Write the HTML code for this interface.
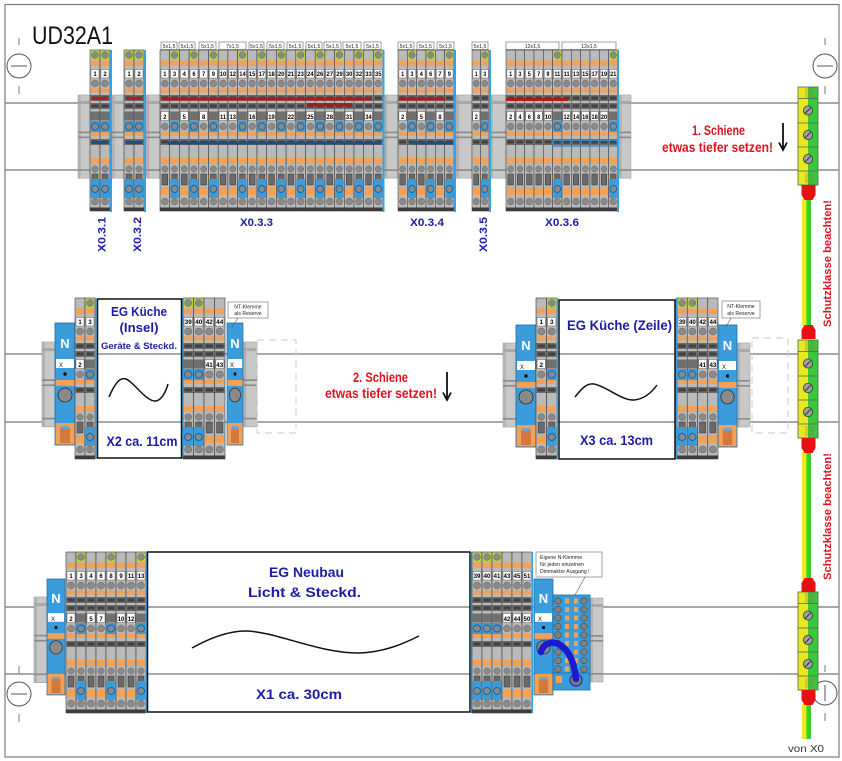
<!DOCTYPE html>
<html><head><meta charset="utf-8"><style>
html,body{margin:0;padding:0;background:#fff;}
svg{display:block;}
text{font-family:"Liberation Sans",sans-serif;}
.n{font-size:6px;font-weight:bold;fill:#000;text-anchor:middle;}
.lb{font-size:5.2px;fill:#222;text-anchor:middle;}
.bl{font-size:11px;font-weight:bold;fill:#1c1ca6;}
.rd{font-weight:bold;fill:#e2121e;}
.bx{font-weight:bold;fill:#1c1ca6;text-anchor:middle;}
.nn{font-size:13px;font-weight:bold;fill:#fff;text-anchor:middle;}
.xx{font-size:6px;fill:#111;}
.co{font-size:5.2px;fill:#222;}
</style></head><body>
<svg width="842" height="761" viewBox="0 0 842 761" xmlns="http://www.w3.org/2000/svg">
<defs>
<g id="t">
<rect x="0" y="0" width="10" height="161" fill="#bababa" stroke="#3c3c3c" stroke-width="0.6"/>
<rect x="1" y="10.5" width="8" height="5.5" fill="#f4a055"/>
<rect x="1" y="19.5" width="8" height="8.5" fill="#fff" stroke="#444" stroke-width="0.4"/>
<circle cx="5" cy="33.5" r="3.5" fill="#8a8a8a" stroke="#666" stroke-width="0.5"/>
<rect x="1" y="38.5" width="8" height="4" fill="#f4a055"/>
<rect x="0.5" y="45" width="9" height="6" fill="#6c6c6c"/>
<rect x="1.5" y="46.5" width="7" height="3" fill="#404040"/>
<rect x="0.5" y="53" width="9" height="6" fill="#6c6c6c"/>
<rect x="1.5" y="54.5" width="7" height="3" fill="#404040"/>
<rect x="0.5" y="61.5" width="9" height="9" fill="#707070"/>
<circle cx="5" cy="76.5" r="3.5" fill="#8a8a8a" stroke="#666" stroke-width="0.5"/>
<rect x="1" y="81.5" width="8" height="4.5" fill="#f4a055"/>
<rect x="0.5" y="89" width="9" height="6" fill="#6c6c6c"/>
<rect x="1.5" y="90.5" width="7" height="3" fill="#404040"/>
<rect x="1" y="108" width="8" height="6" fill="#f4a055"/>
<circle cx="5" cy="119" r="3.2" fill="#8a8a8a" stroke="#666" stroke-width="0.5"/>
<rect x="2" y="124" width="6" height="11" fill="#6a6a6a" stroke="#333" stroke-width="0.5"/>
<rect x="1" y="137" width="8" height="8" fill="#f4a055"/>
<circle cx="5" cy="151.5" r="3.5" fill="#8a8a8a" stroke="#666" stroke-width="0.5"/>
<rect x="0" y="157.5" width="10" height="3.5" fill="#3c3c3c"/>
</g>
<rect id="w" x="1" y="61.5" width="8" height="9" fill="#fff" stroke="#444" stroke-width="0.4"/>
<g id="g"><rect x="0.6" y="0.6" width="8.8" height="9" fill="#b8d83a"/><circle cx="5" cy="5" r="3.4" fill="#8a8a8a" stroke="#555" stroke-width="0.4"/></g>
<g id="b"><rect x="0.6" y="71" width="8.8" height="11" fill="#3a9cda"/><circle cx="5" cy="76.5" r="3.5" fill="#8a8a8a" stroke="#1a5f9a" stroke-width="0.9"/><rect x="0.6" y="129" width="8.8" height="19" fill="#3a9cda"/><circle cx="5" cy="139" r="3.5" fill="#8a8a8a" stroke="#1a5f9a" stroke-width="0.9"/></g>
<g id="n">
<rect width="20" height="122" fill="#3a9cda" stroke="#1e6aa6" stroke-width="0.8"/>
<rect x="1" y="36" width="18" height="9" fill="#fff"/>
<circle cx="10" cy="51" r="1.7" fill="#111"/>
<rect x="0.5" y="57" width="19" height="6" fill="#f4a055"/>
<circle cx="10" cy="72" r="7" fill="#8a8a8a" stroke="#2a2a2a" stroke-width="0.8"/>
<rect x="0.5" y="100" width="19" height="21.5" fill="#f4a055"/>
<rect x="5" y="105" width="10" height="15" fill="#d27a3c"/>
<rect x="6" y="103" width="8" height="3" fill="#6fa3c8"/>
</g>
<g id="e"><rect width="13" height="84" fill="#c8c8c8" stroke="#a0a0a0" stroke-width="0.6"/><rect width="3" height="84" fill="#b2b2b2"/><rect y="6" width="13" height="3" fill="#a8a8a8"/><rect y="37" width="13" height="1.6" fill="#8a8a8a"/><rect y="42" width="13" height="1.6" fill="#8a8a8a"/><rect y="75" width="13" height="1.6" fill="#8a8a8a"/></g>
<g id="pe">
<rect width="10" height="98" fill="#e8e820"/>
<rect x="10" width="10" height="98" fill="#3cc83c"/>
<rect width="20" height="98" fill="none" stroke="#5a5a5a" stroke-width="0.8"/>
<path d="M7 2h9M7 4h9M7 6h9M7 8h9M7 10h9M7 87h9M7 89h9M7 91h9M7 93h9M7 95h9" stroke="#7a7a3a" stroke-width="0.5"/>
<path d="M0 11.5h20M0 36h20M0 60h20M0 84h20" stroke="#5a5a5a" stroke-width="0.7"/>
<circle cx="10" cy="23.5" r="4.6" fill="#a0a0a0" stroke="#333" stroke-width="0.8"/>
<circle cx="10" cy="48" r="4.6" fill="#a0a0a0" stroke="#333" stroke-width="0.8"/>
<circle cx="10" cy="72" r="4.6" fill="#a0a0a0" stroke="#333" stroke-width="0.8"/>
<path d="M7,26.5 L13,20.5 M7,51 L13,45 M7,75 L13,69" stroke="#333" stroke-width="0.9"/>
</g>
<g id="mh"><circle r="12" fill="#fff" stroke="#555" stroke-width="1"/><line x1="-8" x2="8" y1="0" y2="0" stroke="#555" stroke-width="1"/><line x1="0" x2="0" y1="-28" y2="-21" stroke="#777"/><line x1="0" x2="0" y1="20" y2="28" stroke="#777"/></g>
</defs>

<rect x="0" y="0" width="842" height="761" fill="#fff"/>
<rect x="5" y="4.5" width="834" height="752.5" fill="none" stroke="#7a7a7a" stroke-width="1.2"/>

<!-- rails -->
<path d="M5 103H839M5 170H839M5 354H839M5 422H839M5 607H839M5 674H839" stroke="#8c8c8c" stroke-width="1.6"/>

<!-- mounting holes -->
<use href="#mh" transform="translate(19,66)"/>
<use href="#mh" transform="translate(825,66)"/>
<use href="#mh" transform="translate(19,694)"/>
<g transform="translate(825,693)"><circle r="12" fill="#fff" stroke="#555"/><line x1="0" x2="0" y1="-8" y2="8" stroke="#555"/><line x1="0" x2="0" y1="-28" y2="-21" stroke="#777"/><line x1="0" x2="0" y1="20" y2="28" stroke="#777"/></g>

<!-- title -->
<text x="32" y="44" font-size="25" fill="#111" textLength="81" lengthAdjust="spacingAndGlyphs">UD32A1</text>

<!-- end brackets top -->
<use href="#e" transform="translate(78,95) scale(0.92,0.99)"/>
<use href="#e" transform="translate(112,95) scale(0.92,0.99)"/>
<use href="#e" transform="translate(146,95) scale(1.08,0.99)"/>
<use href="#e" transform="translate(384,95) scale(1.08,0.99)"/>
<use href="#e" transform="translate(455,95) scale(1.3,0.99)"/>
<use href="#e" transform="translate(489,95) scale(1.3,0.99)"/>
<use href="#e" transform="translate(619,95) scale(0.92,0.99)"/>
<!-- end brackets middle -->
<use href="#e" transform="translate(42,342) scale(1,1.01)"/>
<use href="#e" transform="translate(243,342) scale(1.08,1.01)"/>
<use href="#e" transform="translate(503,343) scale(1,1.0)"/>
<use href="#e" transform="translate(737,343) scale(1,1.0)"/>
<!-- end brackets bottom -->
<use href="#e" transform="translate(34,597) scale(1,1.02)"/>
<use href="#e" transform="translate(590,598) scale(1,1.0)"/>

<!-- dashed placeholders -->
<rect x="257" y="340" width="39" height="93" fill="none" stroke="#c8c8c8" stroke-dasharray="7,5"/>
<rect x="752" y="338" width="36" height="95" fill="none" stroke="#c8c8c8" stroke-dasharray="7,5"/>

<!-- ===== TOP ROW ===== -->
<!-- label boxes -->
<g fill="#fff" stroke="#444" stroke-width="0.5">
<rect x="161" y="42" width="16" height="7.5"/><rect x="179" y="42" width="16" height="7.5"/><rect x="199" y="42" width="17" height="7.5"/><rect x="219" y="42" width="27" height="7.5"/><rect x="249" y="42" width="15" height="7.5"/><rect x="267" y="42" width="17" height="7.5"/><rect x="287" y="42" width="16" height="7.5"/><rect x="306" y="42" width="16" height="7.5"/><rect x="324" y="42" width="17" height="7.5"/><rect x="343" y="42" width="18" height="7.5"/><rect x="364" y="42" width="17" height="7.5"/>
<rect x="398" y="42" width="16" height="7.5"/><rect x="417" y="42" width="17" height="7.5"/><rect x="437" y="42" width="17" height="7.5"/>
<rect x="472" y="42" width="16" height="7.5"/>
<rect x="506" y="42" width="53" height="7.5"/><rect x="562" y="42" width="54" height="7.5"/>
</g>
<g class="lb">
<text x="169" y="48">5x1,5</text><text x="187" y="48">5x1,5</text><text x="207.5" y="48">5x1,5</text><text x="232.5" y="48">7x1,5</text><text x="256.5" y="48">5x1,5</text><text x="275.5" y="48">5x1,5</text><text x="295" y="48">5x1,5</text><text x="314" y="48">5x1,5</text><text x="332.5" y="48">5x1,5</text><text x="352" y="48">5x1,5</text><text x="372.5" y="48">5x1,5</text>
<text x="406" y="48">5x1,5</text><text x="425.5" y="48">5x1,5</text><text x="445.5" y="48">5x1,5</text>
<text x="480" y="48">5x1,5</text>
<text x="532.5" y="48">12x1,5</text><text x="589" y="48">12x1,5</text>
</g>

<!-- X0.3.1 -->
<g transform="translate(90,50)">
<use href="#t"/><use href="#t" x="10"/><use href="#g"/><use href="#g" x="10"/><use href="#b"/><use href="#b" x="10"/>
<text class="n" x="5" y="26">1</text><text class="n" x="15" y="26">2</text>
</g>
<rect x="92" y="97" width="16" height="3" fill="#c01818"/>
<rect x="92" y="141" width="16" height="3" fill="#1d4f80"/>
<rect x="110" y="50" width="2" height="162" fill="#3aa0e0"/>
<!-- X0.3.2 -->
<g transform="translate(124,50)">
<use href="#t"/><use href="#t" x="10"/><use href="#g"/><use href="#g" x="10"/><use href="#b"/><use href="#b" x="10"/>
<text class="n" x="5" y="26">1</text><text class="n" x="15" y="26">2</text>
</g>
<rect x="126" y="97" width="16" height="3" fill="#c01818"/>
<rect x="126" y="141" width="16" height="3" fill="#1d4f80"/>
<rect x="144" y="50" width="2" height="162" fill="#3aa0e0"/>

<!-- X0.3.3 -->
<g transform="translate(160,50) scale(0.97,1)">
<use href="#t" x="0"/><use href="#t" x="10"/><use href="#t" x="20"/><use href="#t" x="30"/><use href="#t" x="40"/><use href="#t" x="50"/><use href="#t" x="60"/><use href="#t" x="70"/><use href="#t" x="80"/><use href="#t" x="90"/><use href="#t" x="100"/><use href="#t" x="110"/><use href="#t" x="120"/><use href="#t" x="130"/><use href="#t" x="140"/><use href="#t" x="150"/><use href="#t" x="160"/><use href="#t" x="170"/><use href="#t" x="180"/><use href="#t" x="190"/><use href="#t" x="200"/><use href="#t" x="210"/><use href="#t" x="220"/>
<use href="#g" x="10"/><use href="#g" x="30"/><use href="#g" x="50"/><use href="#g" x="80"/><use href="#g" x="100"/><use href="#g" x="120"/><use href="#g" x="140"/><use href="#g" x="160"/><use href="#g" x="180"/><use href="#g" x="200"/><use href="#g" x="220"/>
<use href="#b" x="10"/><use href="#b" x="30"/><use href="#b" x="50"/><use href="#b" x="80"/><use href="#b" x="100"/><use href="#b" x="120"/><use href="#b" x="140"/><use href="#b" x="160"/><use href="#b" x="180"/><use href="#b" x="200"/><use href="#b" x="220"/>
<use href="#w" x="0"/><use href="#w" x="20"/><use href="#w" x="40"/><use href="#w" x="60"/><use href="#w" x="70"/><use href="#w" x="90"/><use href="#w" x="110"/><use href="#w" x="130"/><use href="#w" x="150"/><use href="#w" x="170"/><use href="#w" x="190"/><use href="#w" x="210"/>
<g class="n">
<text x="5" y="26">1</text><text x="15" y="26">3</text><text x="25" y="26">4</text><text x="35" y="26">6</text><text x="45" y="26">7</text><text x="55" y="26">9</text><text x="65" y="26">10</text><text x="75" y="26">12</text><text x="85" y="26">14</text><text x="95" y="26">15</text><text x="105" y="26">17</text><text x="115" y="26">18</text><text x="125" y="26">20</text><text x="135" y="26">21</text><text x="145" y="26">23</text><text x="155" y="26">24</text><text x="165" y="26">26</text><text x="175" y="26">27</text><text x="185" y="26">29</text><text x="195" y="26">30</text><text x="205" y="26">32</text><text x="215" y="26">33</text><text x="225" y="26">35</text>
<text x="5" y="69">2</text><text x="25" y="69">5</text><text x="45" y="69">8</text><text x="65" y="69">11</text><text x="75" y="69">13</text><text x="95" y="69">16</text><text x="115" y="69">19</text><text x="135" y="69">22</text><text x="155" y="69">25</text><text x="175" y="69">28</text><text x="195" y="69">31</text><text x="215" y="69">34</text>
</g>
</g>
<rect x="162" y="97.5" width="210" height="3" fill="#b01c1c"/>
<rect x="307" y="103" width="45" height="3.5" fill="#a02020"/>
<rect x="168" y="141.5" width="213" height="3" fill="#1d4f80"/>
<rect x="382.5" y="50" width="2" height="162" fill="#3aa0e0"/>

<!-- X0.3.4 -->
<g transform="translate(398,50) scale(0.933,1)">
<use href="#t" x="0"/><use href="#t" x="10"/><use href="#t" x="20"/><use href="#t" x="30"/><use href="#t" x="40"/><use href="#t" x="50"/>
<use href="#g" x="10"/><use href="#g" x="30"/><use href="#g" x="50"/>
<use href="#b" x="10"/><use href="#b" x="30"/><use href="#b" x="50"/>
<use href="#w" x="0"/><use href="#w" x="20"/><use href="#w" x="40"/>
<g class="n"><text x="5" y="26">1</text><text x="15" y="26">3</text><text x="25" y="26">4</text><text x="35" y="26">6</text><text x="45" y="26">7</text><text x="55" y="26">9</text>
<text x="5" y="69">2</text><text x="25" y="69">5</text><text x="45" y="69">8</text></g>
</g>
<rect x="399" y="97.5" width="46" height="3" fill="#b01c1c"/>
<rect x="410" y="141.5" width="43" height="3" fill="#1d4f80"/>
<rect x="454" y="50" width="2" height="162" fill="#3aa0e0"/>

<!-- X0.3.5 -->
<g transform="translate(472,50) scale(0.85,1)">
<use href="#t" x="0"/><use href="#t" x="10"/><use href="#g" x="10"/><use href="#b" x="10"/><use href="#w" x="0"/>
<g class="n"><text x="5" y="26">1</text><text x="15" y="26">3</text><text x="5" y="69">2</text></g>
</g>
<rect x="489" y="50" width="2" height="162" fill="#3aa0e0"/>

<!-- X0.3.6 -->
<g transform="translate(506,50) scale(0.933,1)">
<use href="#t" x="0"/><use href="#t" x="10"/><use href="#t" x="20"/><use href="#t" x="30"/><use href="#t" x="40"/><use href="#t" x="50"/><use href="#t" x="60"/><use href="#t" x="70"/><use href="#t" x="80"/><use href="#t" x="90"/><use href="#t" x="100"/><use href="#t" x="110"/>
<use href="#g" x="50"/><use href="#g" x="110"/><use href="#b" x="50"/><use href="#b" x="110"/>
<use href="#w" x="0"/><use href="#w" x="10"/><use href="#w" x="20"/><use href="#w" x="30"/><use href="#w" x="40"/><use href="#w" x="60"/><use href="#w" x="70"/><use href="#w" x="80"/><use href="#w" x="90"/><use href="#w" x="100"/>
<g class="n"><text x="5" y="26">1</text><text x="15" y="26">3</text><text x="25" y="26">5</text><text x="35" y="26">7</text><text x="45" y="26">9</text><text x="55" y="26">11</text><text x="65" y="26">11</text><text x="75" y="26">13</text><text x="85" y="26">15</text><text x="95" y="26">17</text><text x="105" y="26">19</text><text x="115" y="26">21</text>
<text x="5" y="69">2</text><text x="15" y="69">4</text><text x="25" y="69">6</text><text x="35" y="69">8</text><text x="45" y="69">10</text><text x="65" y="69">12</text><text x="75" y="69">14</text><text x="85" y="69">16</text><text x="95" y="69">18</text><text x="105" y="69">20</text></g>
</g>
<rect x="506" y="98" width="62" height="3" fill="#b01c1c"/>
<rect x="553" y="140.5" width="64" height="5.5" fill="none" stroke="#2a88c8" stroke-width="1.2"/>
<rect x="617" y="50" width="2" height="162" fill="#3aa0e0"/>

<!-- top labels -->
<text class="bl" x="240" y="226" textLength="33" lengthAdjust="spacingAndGlyphs">X0.3.3</text>
<text class="bl" x="410" y="226" textLength="34" lengthAdjust="spacingAndGlyphs">X0.3.4</text>
<text class="bl" x="545" y="226" textLength="34" lengthAdjust="spacingAndGlyphs">X0.3.6</text>
<text class="bl" font-size="12" transform="translate(105.5,252) rotate(-90)" textLength="35" lengthAdjust="spacingAndGlyphs">X0.3.1</text>
<text class="bl" font-size="12" transform="translate(141,252) rotate(-90)" textLength="35" lengthAdjust="spacingAndGlyphs">X0.3.2</text>
<text class="bl" font-size="12" transform="translate(487,252) rotate(-90)" textLength="35" lengthAdjust="spacingAndGlyphs">X0.3.5</text>

<!-- ===== MIDDLE ROW ===== -->
<!-- X2 -->
<use href="#n" transform="translate(55,323)"/>
<text class="nn" x="65" y="348">N</text><text class="xx" x="59" y="367">X</text>
<g transform="translate(75,298)">
<use href="#t" x="0"/><use href="#t" x="10"/><use href="#g" x="10"/><use href="#b" x="10"/><use href="#w" x="0"/>
<g class="n"><text x="5" y="26">1</text><text x="15" y="26">3</text><text x="5" y="69">2</text></g>
</g>
<rect x="95" y="298" width="1.6" height="161" fill="#3aa0e0"/>
<g transform="translate(183,298) scale(1.05,1)">
<use href="#t" x="0"/><use href="#t" x="10"/><use href="#t" x="20"/><use href="#t" x="30"/>
<use href="#g" x="0"/><use href="#g" x="10"/><use href="#b" x="0"/><use href="#b" x="10"/>
<use href="#w" x="20"/><use href="#w" x="30"/>
<g class="n"><text x="5" y="26">39</text><text x="15" y="26">40</text><text x="25" y="26">42</text><text x="35" y="26">44</text><text x="25" y="69">41</text><text x="35" y="69">43</text></g>
</g>
<rect x="181.5" y="298" width="1.6" height="161" fill="#3aa0e0"/>
<use href="#n" transform="translate(227,323) scale(0.8,1)"/>
<text class="nn" x="235" y="348">N</text><text class="xx" x="230" y="367">X</text>
<rect x="97.5" y="299" width="84" height="159" fill="none" stroke="#111" stroke-width="1.5"/>
<text class="bx" x="139" y="316" font-size="13" textLength="56" lengthAdjust="spacingAndGlyphs">EG Küche</text>
<text class="bx" x="139" y="332" font-size="13" textLength="39" lengthAdjust="spacingAndGlyphs">(Insel)</text>
<text class="bx" x="139" y="349" font-size="9.5" textLength="76" lengthAdjust="spacingAndGlyphs">Geräte &amp; Steckd.</text>
<path d="M109,397 C115,383 120,377 126,379 C134,382 146,402 156,401 C162,400 166,391 168,384" fill="none" stroke="#111" stroke-width="1.5"/>
<text class="bx" x="142" y="446" font-size="14" textLength="71" lengthAdjust="spacingAndGlyphs">X2 ca. 11cm</text>
<rect x="228" y="302" width="40" height="16" fill="#fff" stroke="#666" stroke-width="0.6"/>
<text class="co" x="248" y="308.5" text-anchor="middle">NT-Klemme</text>
<text class="co" x="248" y="315" text-anchor="middle">als Reserve</text>
<line x1="238" y1="318" x2="232" y2="327" stroke="#555" stroke-width="0.6"/>

<!-- X3 -->
<use href="#n" transform="translate(516,325)"/>
<text class="nn" x="526" y="350">N</text><text class="xx" x="520" y="369">X</text>
<g transform="translate(536,298) scale(1.05,1)">
<use href="#t" x="0"/><use href="#t" x="10"/><use href="#g" x="10"/><use href="#b" x="10"/><use href="#w" x="0"/>
<g class="n"><text x="5" y="26">1</text><text x="15" y="26">3</text><text x="5" y="69">2</text></g>
</g>
<rect x="556.5" y="298" width="1.6" height="161" fill="#3aa0e0"/>
<g transform="translate(677,298) scale(1.025,1)">
<use href="#t" x="0"/><use href="#t" x="10"/><use href="#t" x="20"/><use href="#t" x="30"/>
<use href="#g" x="0"/><use href="#g" x="10"/><use href="#b" x="0"/><use href="#b" x="10"/>
<use href="#w" x="20"/><use href="#w" x="30"/>
<g class="n"><text x="5" y="26">39</text><text x="15" y="26">40</text><text x="25" y="26">42</text><text x="35" y="26">44</text><text x="25" y="69">41</text><text x="35" y="69">43</text></g>
</g>
<rect x="675.5" y="298" width="1.6" height="161" fill="#3aa0e0"/>
<use href="#n" transform="translate(718,325) scale(0.95,1)"/>
<text class="nn" x="727.5" y="350">N</text><text class="xx" x="722" y="369">X</text>
<rect x="559" y="300" width="116" height="159" fill="none" stroke="#111" stroke-width="1.5"/>
<text class="bx" x="619.5" y="330" font-size="14" textLength="105" lengthAdjust="spacingAndGlyphs">EG Küche (Zeile)</text>
<path d="M575,397 C582,388 587,383 594,384 C606,386 622,401 634,400 C645,399 652,392 657,385" fill="none" stroke="#111" stroke-width="1.5"/>
<text class="bx" x="616.5" y="445" font-size="14" textLength="73" lengthAdjust="spacingAndGlyphs">X3 ca. 13cm</text>
<rect x="722" y="301" width="38" height="17" fill="#fff" stroke="#666" stroke-width="0.6"/>
<text class="co" x="741" y="308" text-anchor="middle">NT-Klemme</text>
<text class="co" x="741" y="315" text-anchor="middle">als Reserve</text>
<line x1="731" y1="318" x2="726" y2="327" stroke="#555" stroke-width="0.6"/>

<!-- ===== BOTTOM ROW ===== -->
<use href="#n" transform="translate(47,579) scale(0.9,0.95)"/>
<text class="nn" x="56" y="603">N</text><text class="xx" x="51" y="621">X</text>
<g transform="translate(66,552)">
<use href="#t" x="0"/><use href="#t" x="10"/><use href="#t" x="20"/><use href="#t" x="30"/><use href="#t" x="40"/><use href="#t" x="50"/><use href="#t" x="60"/><use href="#t" x="70"/>
<use href="#g" x="10"/><use href="#g" x="40"/><use href="#g" x="70"/><use href="#b" x="10"/><use href="#b" x="40"/><use href="#b" x="70"/>
<use href="#w" x="0"/><use href="#w" x="20"/><use href="#w" x="30"/><use href="#w" x="50"/><use href="#w" x="60"/>
<g class="n"><text x="5" y="26">1</text><text x="15" y="26">3</text><text x="25" y="26">4</text><text x="35" y="26">6</text><text x="45" y="26">8</text><text x="55" y="26">9</text><text x="65" y="26">11</text><text x="75" y="26">13</text>
<text x="5" y="69">2</text><text x="25" y="69">5</text><text x="35" y="69">7</text><text x="55" y="69">10</text><text x="65" y="69">12</text></g>
</g>
<rect x="145.5" y="552" width="1.6" height="161" fill="#3aa0e0"/>
<rect x="147.5" y="552" width="322.5" height="160" fill="none" stroke="#111" stroke-width="1.5"/>
<text class="bx" x="306.5" y="577" font-size="13.5" textLength="75" lengthAdjust="spacingAndGlyphs">EG Neubau</text>
<text class="bx" x="304.5" y="597" font-size="13.5" textLength="113" lengthAdjust="spacingAndGlyphs">Licht &amp; Steckd.</text>
<path d="M192,648 C210,638 228,631 245,631 C275,631 320,654 360,653 C385,652 405,643 419,636" fill="none" stroke="#111" stroke-width="1.5"/>
<text class="bx" x="299" y="699" font-size="14" textLength="86" lengthAdjust="spacingAndGlyphs">X1 ca. 30cm</text>

<rect x="470.5" y="552" width="1.6" height="161" fill="#3aa0e0"/>
<g transform="translate(472,552)">
<use href="#t" x="0"/><use href="#t" x="10"/><use href="#t" x="20"/><use href="#t" x="30"/><use href="#t" x="40"/><use href="#t" x="50"/>
<use href="#g" x="0"/><use href="#g" x="10"/><use href="#g" x="20"/><use href="#b" x="0"/><use href="#b" x="10"/><use href="#b" x="20"/>
<use href="#w" x="30"/><use href="#w" x="40"/><use href="#w" x="50"/>
<g class="n"><text x="5" y="26">39</text><text x="15" y="26">40</text><text x="25" y="26">41</text><text x="35" y="26">43</text><text x="45" y="26">45</text><text x="55" y="26">51</text>
<text x="35" y="69">42</text><text x="45" y="69">44</text><text x="55" y="69">50</text></g>
</g>
<rect x="531.5" y="552" width="1.6" height="161" fill="#3aa0e0"/>
<use href="#n" transform="translate(534,579) scale(0.95,0.95)"/>
<text class="nn" x="543.5" y="603">N</text><text class="xx" x="538" y="621">X</text>

<!-- N distribution block -->
<rect x="553" y="595" width="37" height="95" fill="#3a9cda" stroke="#1e6aa6" stroke-width="0.8"/>
<g fill="#7f7f7f" stroke="#333" stroke-width="0.5">
<circle cx="558" cy="601" r="3.3"/><circle cx="558" cy="609.5" r="3.3"/><circle cx="558" cy="618" r="3.3"/><circle cx="558" cy="626.5" r="3.3"/><circle cx="558" cy="635" r="3.3"/><circle cx="558" cy="643.5" r="3.3"/><circle cx="558" cy="652" r="3.3"/><circle cx="558" cy="660.5" r="3.3"/><circle cx="558" cy="669" r="3.3"/>
<circle cx="584" cy="601" r="3.3"/><circle cx="584" cy="609.5" r="3.3"/><circle cx="584" cy="618" r="3.3"/><circle cx="584" cy="626.5" r="3.3"/><circle cx="584" cy="635" r="3.3"/><circle cx="584" cy="643.5" r="3.3"/><circle cx="584" cy="652" r="3.3"/><circle cx="584" cy="660.5" r="3.3"/><circle cx="584" cy="669" r="3.3"/>
</g>
<g fill="#f4a055">
<rect x="565" y="598.5" width="4" height="5"/><rect x="565" y="607" width="4" height="5"/><rect x="565" y="615.5" width="4" height="5"/><rect x="565" y="624" width="4" height="5"/><rect x="565" y="632.5" width="4" height="5"/><rect x="565" y="641" width="4" height="5"/><rect x="565" y="649.5" width="4" height="5"/><rect x="565" y="658" width="4" height="5"/><rect x="565" y="666.5" width="4" height="5"/>
<rect x="574" y="598.5" width="4" height="5"/><rect x="574" y="607" width="4" height="5"/><rect x="574" y="615.5" width="4" height="5"/><rect x="574" y="624" width="4" height="5"/><rect x="574" y="632.5" width="4" height="5"/><rect x="574" y="641" width="4" height="5"/><rect x="574" y="649.5" width="4" height="5"/><rect x="574" y="658" width="4" height="5"/><rect x="574" y="666.5" width="4" height="5"/>
<rect x="556" y="676" width="6" height="7"/>
</g>
<line x1="553" y1="673" x2="590" y2="673" stroke="#1e6aa6" stroke-width="0.7"/>
<circle cx="576" cy="680" r="6" fill="#7f7f7f" stroke="#1a1a9a" stroke-width="1"/>
<path d="M541,652 C545,636 572,638 576,679" fill="none" stroke="#1a1ad2" stroke-width="6.5" stroke-linecap="round"/>

<rect x="536" y="552" width="66" height="25" fill="#fff" stroke="#666" stroke-width="0.6"/>
<text class="co" x="540" y="559">Eigene N-Klemme</text>
<text class="co" x="540" y="566">für jeden einzelnen</text>
<text class="co" x="540" y="573">Dimmaktor Ausgang !</text>
<line x1="585" y1="577" x2="575" y2="595" stroke="#555" stroke-width="0.6"/>

<!-- ===== PE wires and terminals ===== -->
<g>
<rect x="802" y="199" width="4.5" height="127" fill="#eaea1e"/><rect x="806.5" y="199" width="4.5" height="127" fill="#30d030"/>
<rect x="802" y="452" width="4.5" height="127" fill="#eaea1e"/><rect x="806.5" y="452" width="4.5" height="127" fill="#30d030"/>
<rect x="802" y="704" width="4.5" height="35" fill="#eaea1e"/><rect x="806.5" y="704" width="4.5" height="35" fill="#30d030"/>
</g>
<use href="#pe" transform="translate(798,87)"/>
<use href="#pe" transform="translate(798,340)"/>
<use href="#pe" transform="translate(798,592)"/>
<g fill="#e81010">
<path d="M801.5,185 H815.5 V195 L812.5,200 H804.5 L801.5,195 Z"/>
<path d="M801.5,339 H815.5 V330 L812.5,325 H804.5 L801.5,330 Z"/>
<path d="M801.5,438 H815.5 V448 L812.5,453 H804.5 L801.5,448 Z"/>
<path d="M801.5,592 H815.5 V583 L812.5,578 H804.5 L801.5,583 Z"/>
<path d="M801.5,690 H815.5 V700 L812.5,705 H804.5 L801.5,700 Z"/>
</g>

<!-- red notes -->
<text class="rd" x="718.5" y="135" font-size="14" text-anchor="middle" textLength="53" lengthAdjust="spacingAndGlyphs">1. Schiene</text>
<text class="rd" x="717.5" y="152" font-size="14" text-anchor="middle" textLength="111" lengthAdjust="spacingAndGlyphs">etwas tiefer setzen!</text>
<path d="M783,123 V149 M779,142.5 L783,150 L787,142.5" fill="none" stroke="#111" stroke-width="1.8"/>
<text class="rd" x="380.5" y="382" font-size="14" text-anchor="middle" textLength="55" lengthAdjust="spacingAndGlyphs">2. Schiene</text>
<text class="rd" x="381" y="398" font-size="14" text-anchor="middle" textLength="112" lengthAdjust="spacingAndGlyphs">etwas tiefer setzen!</text>
<path d="M447,372 V399 M443,392.5 L447,400 L451,392.5" fill="none" stroke="#111" stroke-width="1.8"/>

<text class="rd" font-size="11" transform="translate(831,327) rotate(-90)" textLength="127" lengthAdjust="spacingAndGlyphs">Schutzklasse beachten!</text>
<text class="rd" font-size="11" transform="translate(831,580) rotate(-90)" textLength="127" lengthAdjust="spacingAndGlyphs">Schutzklasse beachten!</text>

<text x="788" y="752" font-size="10" fill="#333" textLength="36" lengthAdjust="spacingAndGlyphs">von X0</text>
</svg>
</body></html>
